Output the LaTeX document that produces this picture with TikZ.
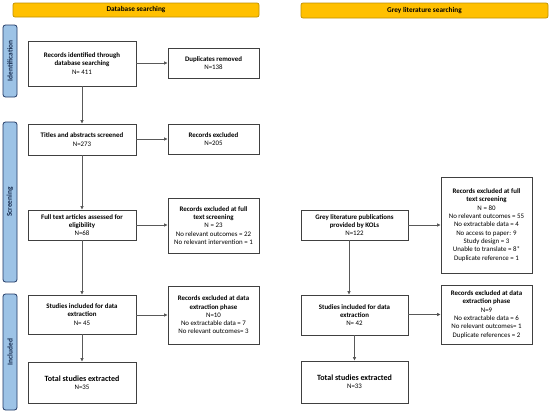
\documentclass[tikz,border=0pt]{standalone}
\usepackage{fontspec}
\setmainfont{Carlito}
\usetikzlibrary{arrows.meta}
\definecolor{hdrfill}{HTML}{FFC000}
\definecolor{hdrline}{HTML}{BF9000}
\definecolor{sidefill}{HTML}{9DC3E6}
\definecolor{sideline}{HTML}{203864}
\definecolor{boxline}{HTML}{404040}
\definecolor{arrline}{HTML}{595959}
\tikzset{
  box/.style={draw=boxline, line width=0.8pt, fill=white, align=center, inner sep=1pt,
    font=\fontsize{6.9}{8.3}\selectfont, text=black},
  hdr/.style={draw=hdrline, line width=0.7pt, fill=hdrfill, rounded corners=2pt,
    font=\fontsize{7.3}{8}\selectfont\bfseries, text=black, inner sep=0pt},
  side/.style={draw=sideline, line width=0.8pt, fill=sidefill, rounded corners=2.5pt,
    inner sep=0pt},
  sidetxt/.style={rotate=90, font=\fontsize{7.4}{8}\selectfont\bfseries, text=sideline!80!black},
  arr/.style={draw=arrline, line width=0.6pt, -{Latex[length=3.5pt,width=3.5pt,fill=black]}}
}
\begin{document}
\begin{tikzpicture}[x=1pt,y=1pt]
\useasboundingbox (0,0) rectangle (550,-413);
\fill[white] (0,0) rectangle (550,-413);
% headers
\node[hdr, minimum width=246pt, minimum height=14pt] (h1) at (136,-10) {Database searching};
\node[hdr, minimum width=247pt, minimum height=15pt] (h2) at (424.5,-10.5) {Grey literature searching};
% side bars
\node[side, minimum width=14pt, minimum height=72pt] (s1) at (10,-61) {};
\node[sidetxt] (t1) at (s1) {Identification};
\node[side, minimum width=14pt, minimum height=160pt] (s2) at (10,-202) {};
\node[sidetxt] (t2) at (s2) {Screening};
\node[side, minimum width=14pt, minimum height=116pt] (s3) at (10,-352) {};
\node[sidetxt] (t3) at (s3) {Included};
% left column
\node[box, minimum width=108pt, minimum height=45pt] (a1) at (82,-63.5)
  {\textbf{Records identified through}\\\textbf{database searching}\\N= 411};
\node[box, minimum width=91pt, minimum height=30pt] (d1) at (213.5,-63)
  {\textbf{Duplicates removed}\\N=138};
\node[box, minimum width=108pt, minimum height=31pt] (a2) at (82,-139.5)
  {\textbf{Titles and abstracts screened}\\N=273};
\node[box, minimum width=91pt, minimum height=30pt] (d2) at (213.5,-139)
  {\textbf{Records excluded}\\N=205};
\node[box, minimum width=108pt, minimum height=30pt] (a3) at (82,-225)
  {\textbf{Full text articles assessed for}\\\textbf{eligibility}\\N=68};
\node[box, minimum width=91pt, minimum height=55pt] (d3) at (213.5,-225.5)
  {\textbf{Records excluded at full}\\\textbf{text screening}\\N = 23\\No relevant outcomes = 22\\No relevant intervention = 1};
\node[box, minimum width=108pt, minimum height=39pt] (a4) at (82,-314.5)
  {\textbf{Studies included for data}\\\textbf{extraction}\\N= 45};
\node[box, minimum width=91pt, minimum height=58pt] (d4) at (213.5,-315)
  {\textbf{Records excluded at data}\\\textbf{extraction phase}\\N=10\\No extractable data = 7\\No relevant outcomes= 3};
\node[box, minimum width=108pt, minimum height=41pt] (a5) at (82,-382.5)
  {\fontsize{8}{9.5}\selectfont\textbf{Total studies extracted}\\N=35};
% right column
\node[box, minimum width=107pt, minimum height=30pt] (g1) at (354.5,-225)
  {\textbf{Grey literature publications}\\\textbf{provided by KOLs}\\N=122};
\node[box, minimum width=91pt, minimum height=96pt] (e1) at (486.5,-225)
  {\textbf{Records excluded at full}\\\textbf{text screening}\\N = 80\\No relevant outcomes = 55\\No extractable data = 4\\No access to paper: 9\\Study design = 3\\Unable to translate = 8*\\Duplicate reference = 1};
\node[box, minimum width=107pt, minimum height=40pt] (g2) at (354.5,-315)
  {\textbf{Studies included for data}\\\textbf{extraction}\\N= 42};
\node[box, minimum width=91pt, minimum height=59pt] (e2) at (486.5,-314.5)
  {\textbf{Records excluded at data}\\\textbf{extraction phase}\\N=9\\No extractable data = 6\\No relevant outcomes= 1\\Duplicate references = 2};
\node[box, minimum width=107pt, minimum height=42pt] (g3) at (354.5,-382)
  {\fontsize{8}{9.5}\selectfont\textbf{Total studies extracted}\\N=33};
% connectors
\draw[arr] (a1.east |- d1) -- (d1.west);
\draw[arr] (a1.south) -- (a2.north);
\draw[arr] (a2.east |- d2) -- (d2.west);
\draw[arr] (a2.south) -- (a3.north);
\draw[arr] (a3.east) -- (a3.east -| d3.west);
\draw[arr] (a3.south) -- (a4.north);
\draw[arr] (a4.east |- d4) -- (d4.west);
\draw[arr] (a4.south) -- (a5.north);
\draw[arr] (g1.east) -- (g1.east -| e1.west);
\draw[arr] ([xshift=-5.5pt]g1.south) -- ([xshift=-5.5pt]g2.north);
\draw[arr] (g2.east |- e2) -- (e2.west);
\draw[arr] (g2.south) -- (g3.north);
\end{tikzpicture}
\end{document}
